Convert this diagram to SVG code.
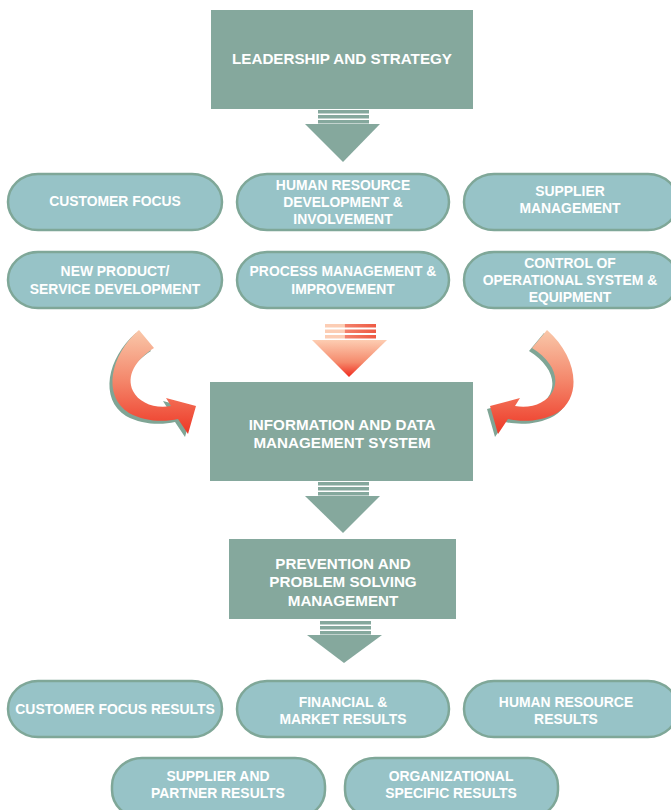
<svg xmlns="http://www.w3.org/2000/svg" width="671" height="810" viewBox="0 0 671 810">
<defs>
<style>
.box{fill:#85A89D;}
.pill{fill:#97C3C7;stroke:#7FA798;stroke-width:2.5;}
.t{font-family:"Liberation Sans",Arial,sans-serif;font-weight:bold;font-size:13.9px;fill:#ffffff;text-anchor:middle;}
.tb{font-size:15.2px;}
.ga{fill:#85A89D;}
.shadow{fill:#7FA595;}
</style>
<linearGradient id="curveGrad" gradientUnits="userSpaceOnUse" x1="0" y1="330" x2="0" y2="432">
<stop offset="0" stop-color="#F9C8AA"/>
<stop offset="0.5" stop-color="#F4866A"/>
<stop offset="1" stop-color="#EE3A28"/>
</linearGradient>
<linearGradient id="downGrad" gradientUnits="userSpaceOnUse" x1="0" y1="340" x2="0" y2="377">
<stop offset="0" stop-color="#FDCDB2"/>
<stop offset="0.6" stop-color="#F58A6C"/>
<stop offset="1" stop-color="#F02A1E"/>
</linearGradient>
<linearGradient id="barGrad" gradientUnits="userSpaceOnUse" x1="325" y1="0" x2="376" y2="0">
<stop offset="0" stop-color="#FCCDB4"/>
<stop offset="0.38" stop-color="#FCCDB4"/>
<stop offset="0.4" stop-color="#F3806A"/>
<stop offset="1" stop-color="#EE5A44"/>
</linearGradient>
<path id="curveArrow" d="M139,330 C110,355 102,396 129,413 C145,422 165,422 178,419 L188,434 L196,406 L166,398 L171,406 C155,409 139,403 133,391 C126,376 135,360 154,348 Z"/>
</defs>

<g id="connectors">
<g id="arrow-leadership">
<rect class="ga" x="318" y="110" width="51" height="3.5"/>
<rect class="ga" x="318" y="115" width="51" height="3.5"/>
<rect class="ga" x="318" y="120" width="51" height="3.5"/>
<polygon class="ga" points="305,124 380,124 343,162"/>
</g>
<g id="arrow-orange-down">
<rect fill="url(#barGrad)" x="325" y="324" width="51" height="3.5"/>
<rect fill="url(#barGrad)" x="325" y="329.5" width="51" height="3.5"/>
<rect fill="url(#barGrad)" x="325" y="335" width="51" height="3.5"/>
<polygon fill="url(#downGrad)" points="312,340 387,340 349,377"/>
</g>
<g id="arrow-curve-left">
<use href="#curveArrow" class="shadow" transform="translate(-3,3)"/>
<use href="#curveArrow" fill="url(#curveGrad)"/>
</g>
<g id="arrow-curve-right" transform="translate(686,0) scale(-1,1)">
<use href="#curveArrow" class="shadow" transform="translate(3,3)"/>
<use href="#curveArrow" fill="url(#curveGrad)"/>
</g>
<g id="arrow-info">
<rect class="ga" x="318" y="482" width="51" height="3.5"/>
<rect class="ga" x="318" y="487" width="51" height="3.5"/>
<rect class="ga" x="318" y="492" width="51" height="3.5"/>
<polygon class="ga" points="305,496 380,496 343,533"/>
</g>
<g id="arrow-prevention">
<rect class="ga" x="320" y="621" width="51" height="3.5"/>
<rect class="ga" x="320" y="626" width="51" height="3.5"/>
<rect class="ga" x="320" y="631" width="51" height="3.5"/>
<polygon class="ga" points="307,635 382,635 344,663"/>
</g>
</g>

<g id="leadership">
<rect class="box" x="211" y="10" width="262" height="99"/>
<text class="t tb" x="342" y="63.5">LEADERSHIP AND STRATEGY</text>
</g>

<g id="customer-focus">
<rect class="pill" x="8" y="174" width="214" height="56" rx="30" ry="28"/>
<text class="t" x="115" y="206">CUSTOMER FOCUS</text>
</g>
<g id="hr-development">
<rect class="pill" x="237" y="174" width="212" height="56" rx="30" ry="28"/>
<text class="t" x="343" y="190">HUMAN RESOURCE</text>
<text class="t" x="343" y="207">DEVELOPMENT &amp;</text>
<text class="t" x="343" y="224">INVOLVEMENT</text>
</g>
<g id="supplier-management">
<rect class="pill" x="464" y="174" width="214" height="56" rx="30" ry="28"/>
<text class="t" x="570" y="196">SUPPLIER</text>
<text class="t" x="570" y="213">MANAGEMENT</text>
</g>
<g id="new-product">
<rect class="pill" x="8" y="252" width="214" height="56" rx="30" ry="28"/>
<text class="t" x="115" y="276">NEW PRODUCT/</text>
<text class="t" x="115" y="294">SERVICE DEVELOPMENT</text>
</g>
<g id="process-management">
<rect class="pill" x="237" y="252" width="212" height="56" rx="30" ry="28"/>
<text class="t" x="343" y="276">PROCESS MANAGEMENT &amp;</text>
<text class="t" x="343" y="294">IMPROVEMENT</text>
</g>
<g id="control-operational">
<rect class="pill" x="464" y="252" width="214" height="56" rx="30" ry="28"/>
<text class="t" x="570" y="268">CONTROL OF</text>
<text class="t" x="570" y="285">OPERATIONAL SYSTEM &amp;</text>
<text class="t" x="570" y="302">EQUIPMENT</text>
</g>

<g id="information">
<rect class="box" x="210" y="382" width="263" height="99"/>
<text class="t tb" x="342" y="429.5">INFORMATION AND DATA</text>
<text class="t tb" x="342" y="447.5">MANAGEMENT SYSTEM</text>
</g>

<g id="prevention">
<rect class="box" x="229" y="539" width="227" height="80"/>
<text class="t tb" x="343" y="568.5">PREVENTION AND</text>
<text class="t tb" x="343" y="587">PROBLEM SOLVING</text>
<text class="t tb" x="343" y="605.5">MANAGEMENT</text>
</g>

<g id="customer-focus-results">
<rect class="pill" x="8" y="681" width="214" height="56" rx="30" ry="28"/>
<text class="t" x="115" y="714">CUSTOMER FOCUS RESULTS</text>
</g>
<g id="financial-results">
<rect class="pill" x="237" y="681" width="212" height="56" rx="30" ry="28"/>
<text class="t" x="343" y="707">FINANCIAL &amp;</text>
<text class="t" x="343" y="724">MARKET RESULTS</text>
</g>
<g id="hr-results">
<rect class="pill" x="464" y="681" width="214" height="56" rx="30" ry="28"/>
<text class="t" x="566" y="707">HUMAN RESOURCE</text>
<text class="t" x="566" y="724">RESULTS</text>
</g>
<g id="supplier-results">
<rect class="pill" x="112" y="758" width="213" height="60" rx="30" ry="28"/>
<text class="t" x="218" y="781">SUPPLIER AND</text>
<text class="t" x="218" y="798">PARTNER RESULTS</text>
</g>
<g id="organizational-results">
<rect class="pill" x="345" y="758" width="213" height="60" rx="30" ry="28"/>
<text class="t" x="451" y="781">ORGANIZATIONAL</text>
<text class="t" x="451" y="798">SPECIFIC RESULTS</text>
</g>
</svg>
